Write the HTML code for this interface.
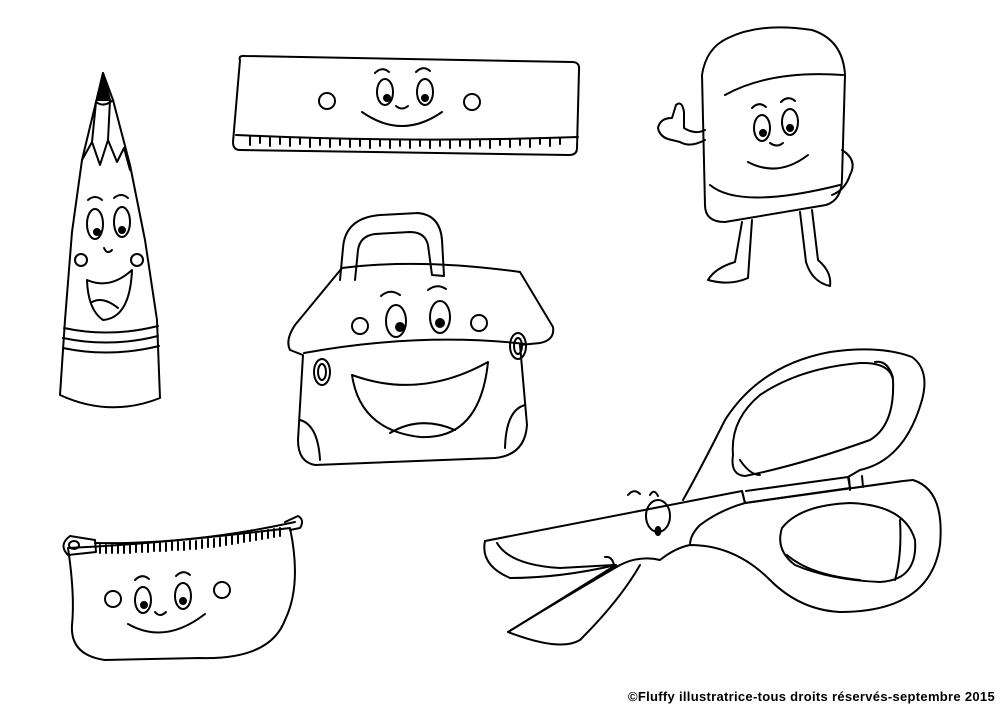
<!DOCTYPE html>
<html><head><style>
html,body{margin:0;padding:0;background:#fff;}
svg{display:block}
.t{position:absolute;left:628px;top:689px;font:bold 13px "Liberation Sans",sans-serif;letter-spacing:0.3px;color:#000;white-space:nowrap}
</style></head><body>
<div style="position:relative;width:1000px;height:707px;overflow:hidden">
<svg width="1000" height="707" viewBox="0 0 1000 707" fill="none" stroke="#000" stroke-width="2" stroke-linecap="round" stroke-linejoin="round">
<!-- Pencil -->
<path d="M103 73 L96 102 L82 160 L72 232 L65 320 L60 395 Q110 418 160 398 L157 320 L145 240 L130 165 L113 100 Z"/>
<path d="M96 102 Q104 108 113 100"/>
<path d="M97 100 L103 73 L110 100 Z" fill="#000"/>
<path d="M82 160 L92 142 L100 165 L108 140 L117 162 L124 148 L130 170"/>
<path d="M92 142 L96 102 M108 140 L110 100"/>
<path d="M64 328 Q110 338 158 326 M63 338 Q110 348 158 336 M63 348 Q110 358 159 346"/>
<ellipse cx="95" cy="224" rx="8" ry="15"/><ellipse cx="122" cy="222" rx="8" ry="15"/>
<circle cx="97" cy="232" r="3" fill="#000"/><circle cx="122" cy="230" r="3" fill="#000"/>
<circle cx="81" cy="260" r="6"/><circle cx="137" cy="260" r="6"/>
<path d="M88 200 Q95 194 102 200 M114 198 Q121 192 128 198"/>
<path d="M104 248 Q107 255 112 250"/>
<path d="M87 280 Q110 290 132 270 Q130 318 103 320 Q88 310 87 280 Z"/>
<path d="M92 302 Q103 296 118 308"/>
<!-- Ruler -->
<path d="M240 60 Q238 55 246 56 L572 62 Q580 62 579 70 L577 148 Q577 155 569 155 L240 150 Q233 150 233 142 Z"/>
<path d="M236 135 Q406 143 578 137"/>
<path d="M250 137 v8 M260 137 v6 M270 138 v8 M280 138 v6 M290 138 v8 M300 138 v6 M310 139 v8 M320 139 v6 M330 139 v8 M340 139 v6 M350 139 v8 M360 140 v6 M370 140 v8 M380 140 v6 M390 140 v8 M400 140 v6 M410 140 v8 M420 140 v6 M430 140 v8 M440 140 v6 M450 140 v8 M460 140 v6 M470 140 v8 M480 140 v6 M490 140 v8 M500 139 v6 M510 139 v8 M520 139 v6 M530 139 v8 M540 138 v6 M550 138 v8 M560 138 v6"/>
<circle cx="327" cy="101" r="8"/><circle cx="472" cy="102" r="8"/>
<ellipse cx="385" cy="92" rx="8" ry="13"/><ellipse cx="425" cy="92" rx="8" ry="13"/>
<circle cx="387" cy="98" r="3" fill="#000"/><circle cx="425" cy="98" r="3" fill="#000"/>
<path d="M375 73 Q382 66 389 72 M416 72 Q423 65 430 71"/>
<path d="M396 106 Q402 111 408 106"/>
<path d="M362 112 Q402 140 442 112"/>
<!-- Eraser -->
<path d="M728 38 Q760 22 812 30 Q843 40 845 75 L842 178 Q842 200 826 205 L725 222 Q705 222 705 205 L702 75 Q706 48 728 38 Z"/>
<path d="M725 95 Q770 70 843 75"/>
<path d="M710 185 Q740 210 840 185"/>
<ellipse cx="762" cy="128" rx="8" ry="13"/><ellipse cx="790" cy="122" rx="8" ry="13"/>
<circle cx="763" cy="133" r="3" fill="#000"/><circle cx="790" cy="128" r="3" fill="#000"/>
<path d="M752 108 Q759 101 766 107 M781 102 Q788 95 795 101"/>
<path d="M770 143 Q777 148 783 143"/>
<path d="M748 162 Q778 178 808 155"/>
<path d="M705 140 Q690 148 680 142 L672 140 Q660 138 658 128 Q660 118 672 118 L676 105 Q682 100 684 112 L684 128 Q695 135 705 130"/>
<path d="M842 150 Q858 160 850 175 Q845 190 832 195"/>
<path d="M742 222 L735 262 Q715 268 708 280 Q730 286 748 278 L752 220"/>
<path d="M800 212 L806 262 Q812 282 830 286 Q832 272 818 260 L812 210"/>
<!-- Bag -->
<path d="M340 280 L343 248 Q345 218 380 215 L418 213 Q440 215 442 240 L444 276 L432 275 L428 245 Q425 232 410 232 L375 234 Q360 236 358 250 L355 280"/>
<path d="M342 268 Q420 258 520 272 L553 327 Q555 340 540 343 L520 345 L527 425 Q525 455 495 458 L315 465 Q298 462 298 440 L303 355 L290 350 Q285 340 295 325 Z"/>
<path d="M304 353 Q420 332 526 344"/>
<ellipse cx="322" cy="372" rx="8" ry="13"/><ellipse cx="322" cy="372" rx="4" ry="8"/>
<ellipse cx="518" cy="346" rx="8" ry="13"/><ellipse cx="518" cy="346" rx="4" ry="8"/>
<ellipse cx="396" cy="321" rx="10" ry="16"/><ellipse cx="440" cy="317" rx="10" ry="16"/>
<circle cx="400" cy="327" r="4" fill="#000"/><circle cx="440" cy="323" r="4" fill="#000"/>
<circle cx="360" cy="326" r="8"/><circle cx="479" cy="323" r="8"/>
<path d="M381 296 Q390 288 400 295 M428 290 Q437 283 446 289"/>
<path d="M352 375 Q420 400 488 362 Q480 440 420 437 Q360 430 352 375 Z"/>
<path d="M390 433 Q420 415 455 430"/>
<path d="M300 420 Q318 425 320 460 M525 405 Q506 410 505 448"/>
<!-- Pencil case -->
<path d="M68 548 Q160 544 290 528 Q302 585 285 620 Q270 660 200 658 L105 660 Q70 655 72 625 Q75 595 68 548 Z"/>
<path d="M95 543 Q190 545 295 522"/>
<path d="M100 545 v8 M106 545 v8 M112 545 v8 M118 545 v8 M124 545 v8 M130 545 v8 M136 544 v8 M142 544 v8 M148 544 v8 M154 543 v8 M160 543 v8 M166 543 v8 M172 542 v8 M178 542 v8 M184 542 v8 M190 541 v8 M196 541 v8 M202 540 v8 M208 539 v8 M214 539 v8 M220 538 v8 M226 537 v8 M232 536 v8 M238 535 v8 M244 534 v8 M250 533 v8 M256 532 v8 M262 531 v8 M268 530 v8 M274 529 v8 M280 528 v8"/>
<path d="M95 540 L70 536 Q58 545 68 555 L96 552 Z"/><ellipse cx="74" cy="545" rx="5" ry="4"/>
<path d="M285 522 L298 516 Q305 520 300 528 L290 530"/>
<ellipse cx="143" cy="600" rx="8" ry="13"/><ellipse cx="183" cy="596" rx="8" ry="13"/>
<circle cx="144" cy="605" r="3" fill="#000"/><circle cx="183" cy="601" r="3" fill="#000"/>
<path d="M135 580 Q142 573 149 579 M176 576 Q183 569 190 575"/>
<circle cx="113" cy="599" r="8"/><circle cx="222" cy="590" r="8"/>
<path d="M155 612 Q160 618 166 612"/>
<path d="M128 624 Q165 645 205 614"/>
<!-- Scissors -->
<path d="M485 541 L742 491 L745 503 L903 481 L913 480 Q945 490 940 545 Q930 612 840 612 Q800 610 770 580 Q735 545 690 545 Q675 548 660 560 Q640 555 620 565 Q560 600 508 632 Q560 652 580 640 Q620 600 640 565"/>
<path d="M742 491 L745 503 Q720 510 700 525 Q690 535 690 545"/>
<path d="M745 503 L850 488 L848 477"/>
<path d="M485 541 Q480 565 510 578 Q560 578 616 565"/>
<path d="M497 543 Q510 565 560 568 L614 565 M614 565 Q612 556 605 557"/>
<path d="M508 632 Q560 600 616 565"/>
<path d="M683 500 Q700 470 725 420 Q760 365 830 352 Q880 345 912 357 Q930 370 922 400 Q905 460 860 470 L848 477 L746 491"/>
<path d="M733 455 Q730 420 760 395 Q800 368 860 363 Q890 362 893 380 Q895 425 870 440 Q800 465 745 476 Q730 475 733 455 Z"/>
<path d="M740 460 Q750 475 760 475 M875 362 Q888 360 893 378"/>
<path d="M782 528 Q800 505 850 503 Q905 505 915 540 Q918 580 880 582 Q830 580 795 565 Q775 550 782 528 Z"/>
<path d="M787 555 Q810 575 860 580 M900 520 Q902 555 895 580"/>
<path d="M849 478 L850 490 M862 476 L863 487"/>
<ellipse cx="658" cy="516" rx="12" ry="16"/><ellipse cx="658" cy="531" rx="2.5" ry="4" fill="#000"/>
<path d="M628 495 Q634 488 640 494 M650 495 Q654 488 658 496"/>
</svg>
<div class="t">©Fluffy illustratrice-tous droits réservés-septembre 2015</div>
</div>
</body></html>
